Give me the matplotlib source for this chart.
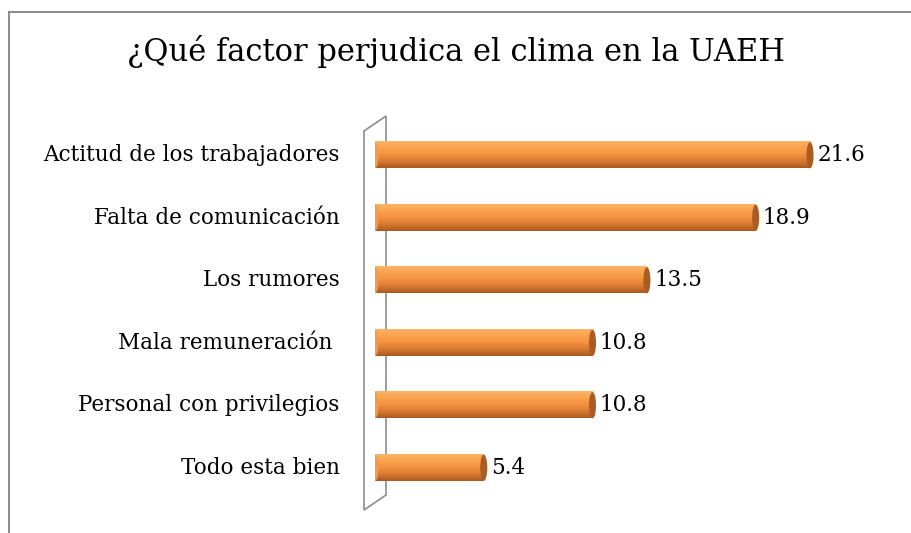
import matplotlib.pyplot as plt
import numpy as np
from matplotlib.colors import LinearSegmentedColormap
from matplotlib.patches import Polygon, Ellipse
from matplotlib.lines import Line2D

# datos
categorias = ['Actitud de los trabajadores', 'Falta de comunicación', 'Los rumores',
              'Mala remuneración ', 'Personal con privilegios', 'Todo esta bien']
valores = [21.6, 18.9, 13.5, 10.8, 10.8, 5.4]

plt.rcParams['font.family'] = ['DejaVu Serif']

W, H = 912, 533
fig = plt.figure(figsize=(W / 100, H / 100), dpi=100)

# marco
fig.add_artist(Line2D([9 / W, 9 / W], [0, 1 - 12 / H], color='#8c8c8c', lw=1.5))
fig.add_artist(Line2D([9 / W, 1], [1 - 12 / H, 1 - 12 / H], color='#8c8c8c', lw=1.5))

# pared 3D del eje (detras de las barras)
pared = [(364, 510), (364, 131), (386, 116), (386, 495)]
fig.add_artist(Polygon([(x / W, 1 - y / H) for x, y in pared], closed=True,
                       facecolor='white', edgecolor='#8c8c8c', lw=1.2, zorder=-1))

fig.text(0.5, 1 - 52 / H, '¿Qué factor perjudica el clima en la UAEH',
         ha='center', va='center', fontsize=22)

x0, x1 = 375, 880
y_top, y_bot = 124, 499
ax = fig.add_axes([x0 / W, 1 - y_bot / H, (x1 - x0) / W, (y_bot - y_top) / H])
ax.set_zorder(1)
escala = 20.14
ax.set_xlim(0, (x1 - x0) / escala)
n = len(categorias)
ax.set_ylim(n - 0.5, -0.5)
ax.axis('off')

cmap = LinearSegmentedColormap.from_list('cil', ['#fbb466', '#f9a24e', '#f49140', '#d97a32', '#a85a22'])
grad = np.linspace(0, 1, 64).reshape(-1, 1)
alto = 0.42

for i, (cat, v) in enumerate(zip(categorias, valores)):
    ax.imshow(grad, cmap=cmap, aspect='auto', extent=(0, v, i + alto / 2, i - alto / 2),
              interpolation='bilinear', zorder=2)
    ax.add_patch(Ellipse((0, i), 0.35, alto, facecolor='#f59a48', edgecolor='none', zorder=2))
    ax.add_patch(Ellipse((v, i), 0.35, alto, facecolor='#a95c24', edgecolor='none', zorder=3))
    ax.text(v + 0.35, i, f'{v}', va='center', ha='left', fontsize=15.5)
    ax.text(-1.75, i, cat, va='center', ha='right', fontsize=15.5)

fig.savefig('out.png', dpi=100)
